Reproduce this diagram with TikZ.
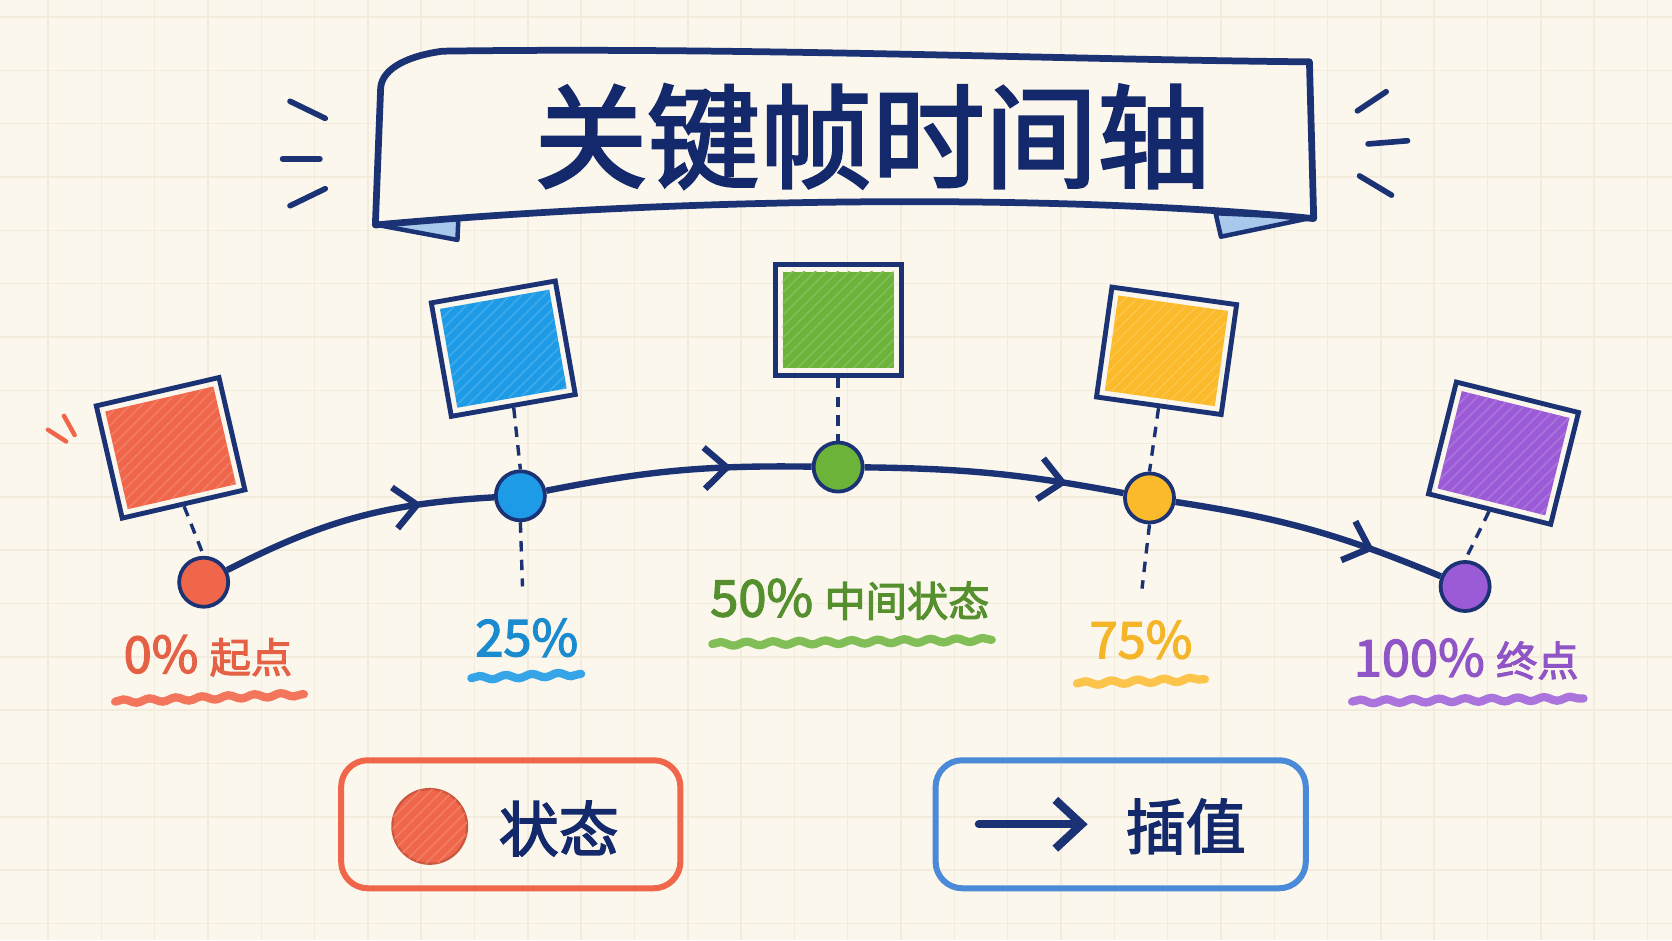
\documentclass[tikz,border=0pt]{standalone}
\usepackage{fontspec}
\setmainfont{Noto Sans CJK SC}
\newfontfamily\halbfett{Noto Sans CJK SC}[FakeBold=2.5]
\usepackage{tikz}
\usetikzlibrary{positioning}
\usetikzlibrary{arrows.meta}
\usetikzlibrary{decorations.markings}
\usetikzlibrary{decorations.pathmorphing}
\usetikzlibrary{patterns}
\definecolor{navy}{HTML}{1B3275}
\definecolor{titelblau}{HTML}{13296B}
\definecolor{papier}{HTML}{FBF7EC}
\definecolor{raster}{HTML}{F3EBDB}
\definecolor{rot}{HTML}{F0664A}
\definecolor{blau}{HTML}{1E9BE6}
\definecolor{gruen}{HTML}{6CB33A}
\definecolor{gelb}{HTML}{FBBA2A}
\definecolor{lila}{HTML}{9B5BD6}
\definecolor{rahmenblau}{HTML}{4A8AD8}
\definecolor{band}{HTML}{A8C8EC}
\newcommand{\klein}[1]{{\fontsize{11}{13}\selectfont #1}}
\tikzset{
  Rahmen/.style={draw=navy, line width=1.3pt, minimum width=1.18cm, minimum height=1.08cm, inner sep=0pt}, % Rahmen der Schlüsselbilder
  Fuellung/.style={fill=#1, minimum width=1.04cm, minimum height=0.94cm, inner sep=0pt,
    postaction={pattern=north east lines, pattern color=white!15!#1}},
  Punkt/.style={circle, draw=navy, line width=1pt, fill=#1, minimum size=0.46cm, inner sep=0pt},
  Lot/.style={navy, line width=0.9pt, dash pattern=on 2.8pt off 2.2pt},
  Bahn/.style={navy, line width=1.7pt, postaction={decorate},
    decoration={markings, mark=at position #1 with {\arrow{Straight Barb[length=6pt, width=11pt]}}}},
  Marke/.style={font=\fontsize{13.5}{15}\selectfont\halbfett, text=#1, inner sep=0pt},
  Strich/.style={line width=2.2pt, line cap=round, decorate,
    decoration={snake, amplitude=0.5pt, segment length=7pt}, draw=#1},
  Legende/.style={draw=#1, rounded corners=0.25cm, line width=1.6pt, minimum height=1.2cm}
}
\begin{document}
\begin{tikzpicture}[x=0.01cm, y=-0.01cm, >=Straight Barb]
%Hintergrund
\fill[papier] (0,0) rectangle (1568,882);
\useasboundingbox (0,0) rectangle (1568,882);
\foreach \gx in {45,95,...,1545} \draw[raster, line width=0.4pt] (\gx,0) -- (\gx,882);
\foreach \gy in {16,66,...,866} \draw[raster, line width=0.4pt] (0,\gy) -- (1568,\gy);

%Titelband
\filldraw[navy, fill=band, line width=1.2pt, line join=round] (354,211) -- (430,201) -- (429,225) -- cycle;
\filldraw[navy, fill=band, line width=1.2pt, line join=round] (1140,200) -- (1231,204) -- (1145,222) -- cycle;
\draw[navy, line width=1.8pt, line join=round, fill=papier]
  (415,48) .. controls (700,44) and (1000,56) .. (1228,58) -- (1232,205)
  .. controls (1000,182) and (650,184) .. (352,211) -- (357,82)
  .. controls (359,63) and (385,52) .. (415,48);
\node[font=\fontsize{30}{36}\selectfont\halbfett, text=titelblau] (titel) at (818,128) {关键帧时间轴};
\foreach \a/\b in {{(272,95)}/{(305,111)}, {(265,149)}/{(300,149)}, {(272,193)}/{(305,177)},
  {(1273,104)}/{(1300,86)}, {(1283,135)}/{(1320,132)}, {(1275,165)}/{(1305,183)}}
  \draw[navy, line width=1.5pt, line cap=round] \a -- \b;

%Schlüsselbilder
\node[Fuellung=rot, rotate=13] at (160,420) {};
\node[Rahmen, rotate=13] (k1) at (160,420) {};
\node[Fuellung=blau, rotate=10] at (472,327) {};
\node[Rahmen, rotate=10] (k2) at (472,327) {};
\node[Fuellung=gruen, minimum height=0.9cm] at (786,300) {};
\node[Rahmen, minimum height=1.04cm] (k3) at (786,300) {};
\node[Fuellung=gelb, rotate=-8, minimum height=0.9cm] at (1094,329) {};
\node[Rahmen, rotate=-8, minimum height=1.04cm] (k4) at (1094,329) {};
\node[Fuellung=lila, rotate=-14] at (1410,425) {};
\node[Rahmen, rotate=-14] (k5) at (1410,425) {};
\draw[rot, line width=1.2pt, line cap=round] (45,403) -- (62,414);
\draw[rot, line width=1.2pt, line cap=round] (60,390) -- (70,408);

%Zustände
\node[Punkt=rot] (s1) at (191,546) {};
\node[Punkt=blau] (s2) at (488,465) {};
\node[Punkt=gruen] (s3) at (786,438) {};
\node[Punkt=gelb] (s4) at (1078,467) {};
\node[Punkt=lila] (s5) at (1374,550) {};
\coordinate (u2) at (490,550);
\coordinate (u4) at (1071,552);

%Lote
\foreach \i in {1,...,5} \draw[Lot] (k\i.south) -- (s\i.north);
\draw[Lot] (s2.south) -- (u2);
\draw[Lot] (s4.south) -- (u4);

%Bahn
\draw[Bahn=0.74] (s1) to[bend left=12] (s2);
\draw[Bahn=0.7] (s2) to[bend left=6] (s3);
\draw[Bahn=0.78] (s3) to[bend left=5] (s4);
\draw[Bahn=0.74] (s4) to[bend left=7] (s5);

%Beschriftungen
\node[Marke={rot!95!black}] (l1) at (195,615) {0\% \klein{起点}};
\node[Marke={blau!90!black}] (l2) at (494,598) {25\%};
\node[Marke={gruen!80!black}] (l3) at (797,562) {50\% \klein{中间状态}};
\node[Marke={gelb!97!black}] (l4) at (1070,600) {75\%};
\node[Marke={lila!92!black}] (l5) at (1375,618) {100\% \klein{终点}};
\draw[Strich={rot!90!white}] (108,658) -- (285,651);
\draw[Strich={blau!90!white}] (442,636) -- (545,632);
\draw[Strich={gruen!85!white}] (668,604) -- (930,600);
\draw[Strich={gelb!85!white}] (1010,641) -- (1130,637);
\draw[Strich={lila!85!white}] (1268,658) -- (1485,655);

%Legende
\node[Legende=rot, minimum width=3.18cm] (leg1) at (479,773) {};
\node[circle, fill=rot, draw=rot!85!black, line width=0.6pt, minimum size=0.7cm,
  postaction={pattern=north east lines, pattern color=white!15!rot}] (zpunkt) at (403,775) {};
\node[font=\fontsize{16}{18}\selectfont\halbfett, text=titelblau] (ztext) at (524,777) {状态};
\node[Legende=rahmenblau, minimum width=3.47cm] (leg2) at (1051,773) {};
\coordinate (pa) at (918,773);
\coordinate (pb) at (1020,773);
\draw[navy, line width=2.2pt, line cap=round, -{Straight Barb[length=7pt, width=13pt]}] (pa) -- (pb);
\node[font=\fontsize{16}{18}\selectfont\halbfett, text=titelblau] (itext) at (1112,775) {插值};
\end{tikzpicture}
\end{document}
